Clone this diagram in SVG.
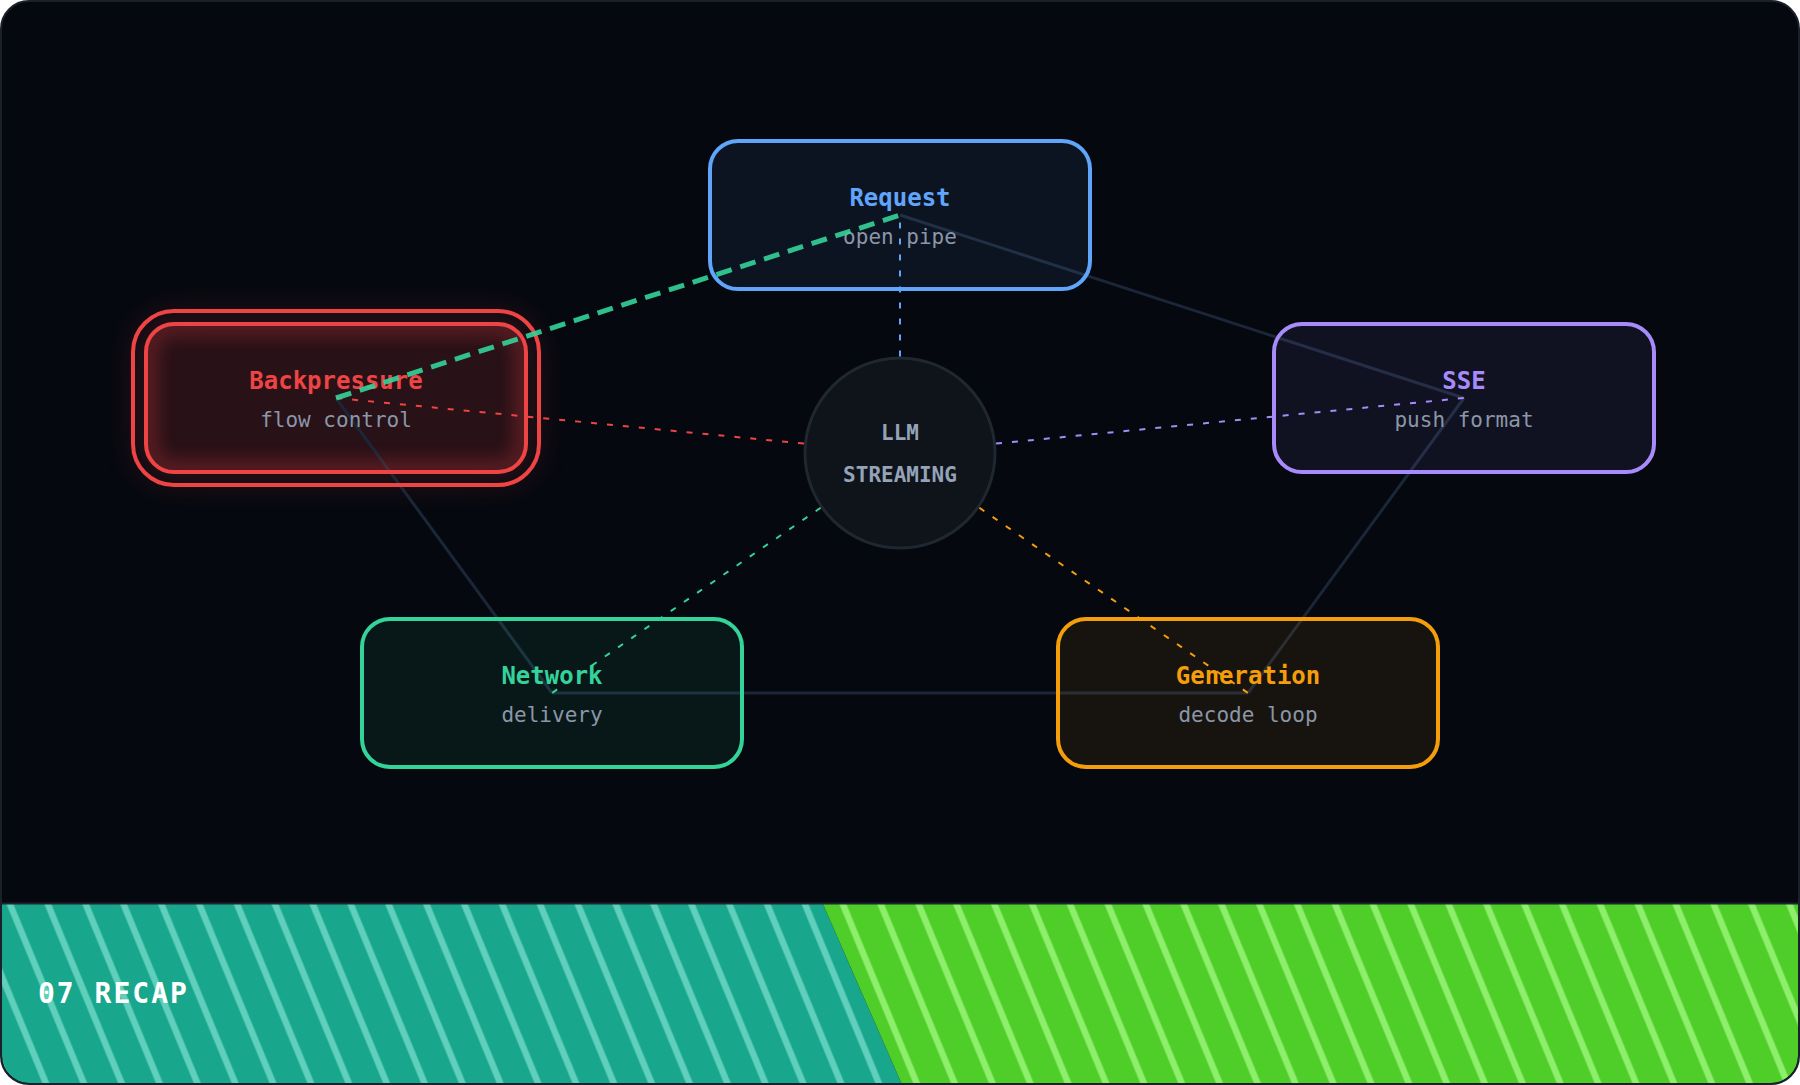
<svg xmlns="http://www.w3.org/2000/svg" width="1800" height="1085" viewBox="0 0 1800 1085">
  <style>
    .title { font-family: "DejaVu Sans Mono", "Liberation Mono", monospace; font-weight: bold; font-size: 24px; text-anchor: middle; }
    .sub { font-family: "DejaVu Sans Mono", "Liberation Mono", monospace; font-size: 21px; text-anchor: middle; fill: #8b96a8; }
    .center { font-family: "DejaVu Sans Mono", "Liberation Mono", monospace; font-weight: bold; font-size: 21px; text-anchor: middle; fill: #94a3b8; }
    .box { stroke-width: 4; fill-opacity: 0.08; }
    .edge { fill: none; stroke: #1b2638; stroke-width: 3; }
    .spoke { fill: none; stroke-width: 2; stroke-dasharray: 6 10; }
  </style>
  <defs>
    <clipPath id="frameClip">
      <rect x="2" y="2" width="1796" height="1081" rx="27"/>
    </clipPath>
    <clipPath id="innerClip">
      <rect x="146" y="324" width="380" height="148" rx="28"/>
    </clipPath>
    <pattern id="stripeTeal" patternUnits="userSpaceOnUse" width="37.86" height="10" patternTransform="skewX(22.4)">
      <rect x="0" y="0" width="37.86" height="10" fill="#18a68c"/>
      <rect x="12.4" y="0" width="7" height="10" fill="#60d0bc"/>
    </pattern>
    <pattern id="stripeGreen" patternUnits="userSpaceOnUse" width="37.86" height="10" patternTransform="skewX(22.4)">
      <rect x="0" y="0" width="37.86" height="10" fill="#4fcd28"/>
      <rect x="12.4" y="0" width="7" height="10" fill="#8def6b"/>
    </pattern>
    <filter id="blurOuter" x="-30%" y="-50%" width="160%" height="200%">
      <feGaussianBlur stdDeviation="16"/>
    </filter>
    <filter id="blurInner" x="-20%" y="-40%" width="140%" height="180%">
      <feGaussianBlur stdDeviation="8"/>
    </filter>
  </defs>

  <!-- frame -->
  <rect x="1" y="1" width="1798" height="1083" rx="28" fill="#05080f"/>

  <!-- bottom band -->
  <g clip-path="url(#frameClip)">
    <polygon points="0,904 822.9,904 902.2,1085 0,1085" fill="url(#stripeTeal)"/>
    <polygon points="822.9,904 1800,904 1800,1085 902.2,1085" fill="url(#stripeGreen)"/>
    <line x1="0" y1="903.5" x2="1800" y2="903.5" stroke="#1f252e" stroke-width="2"/>
  </g>
  <text x="38" y="1003" font-family="'DejaVu Sans Mono', 'Liberation Mono', monospace" font-weight="bold" font-size="28" letter-spacing="2" fill="#ffffff">07 RECAP</text>

  <!-- backpressure glow (behind everything) -->
  <rect x="133" y="311" width="406" height="174" rx="41" fill="#ef4444" opacity="0.15" filter="url(#blurOuter)"/>

  <!-- pentagon edges (under nodes) -->
  <g id="edges">
    <line class="edge" x1="900" y1="215" x2="1464" y2="398"/>
    <line class="edge" x1="1464" y1="398" x2="1248" y2="693"/>
    <line class="edge" x1="1248" y1="693" x2="552" y2="693"/>
    <line class="edge" x1="552" y1="693" x2="336" y2="398"/>
  </g>

  <!-- nodes -->
  <g id="node-request">
    <rect class="box" x="710" y="141" width="380" height="148" rx="28" fill="#60a5fa" stroke="#60a5fa"/>
    <text class="title" x="900" y="206" fill="#60a5fa">Request</text>
    <text class="sub" x="900" y="244">open pipe</text>
  </g>

  <g id="node-backpressure">
    <g clip-path="url(#innerClip)">
      <rect x="146" y="324" width="380" height="148" rx="28" fill="none" stroke="#ef4444" stroke-width="26" opacity="0.25" filter="url(#blurInner)"/>
    </g>
    <rect x="133" y="311" width="406" height="174" rx="41" fill="none" stroke="#ef4444" stroke-width="4"/>
    <rect x="146" y="324" width="380" height="148" rx="28" fill="none" stroke="#ef4444" stroke-width="4"/>
    <text class="title" x="336" y="389" fill="#ef4444">Backpressure</text>
    <text class="sub" x="336" y="427">flow control</text>
  </g>

  <g id="node-sse">
    <rect class="box" x="1274" y="324" width="380" height="148" rx="28" fill="#a78bfa" stroke="#a78bfa"/>
    <text class="title" x="1464" y="389" fill="#a78bfa">SSE</text>
    <text class="sub" x="1464" y="427">push format</text>
  </g>

  <g id="node-network">
    <rect class="box" x="362" y="619" width="380" height="148" rx="28" fill="#34d399" stroke="#34d399"/>
    <text class="title" x="552" y="684" fill="#34d399">Network</text>
    <text class="sub" x="552" y="722">delivery</text>
  </g>

  <g id="node-generation">
    <rect class="box" x="1058" y="619" width="380" height="148" rx="28" fill="#f59e0b" stroke="#f59e0b"/>
    <text class="title" x="1248" y="684" fill="#f59e0b">Generation</text>
    <text class="sub" x="1248" y="722">decode loop</text>
  </g>

  <g id="node-center">
    <circle cx="900" cy="453" r="95" fill="#0f131a" stroke="#1f2731" stroke-width="3"/>
    <text class="center" x="900" y="440">LLM</text>
    <text class="center" x="900" y="482">STREAMING</text>
  </g>

  <!-- connectors on top -->
  <g id="connectors">
    <line class="spoke" x1="900" y1="356.5" x2="900" y2="215" stroke="#60a5fa"/>
    <line class="spoke" x1="804" y1="443.6" x2="336" y2="398" stroke="#ef4444"/>
    <line class="spoke" x1="996" y1="443.6" x2="1464" y2="398" stroke="#a78bfa"/>
    <line class="spoke" x1="820.6" y1="507.8" x2="552" y2="693" stroke="#34d399"/>
    <line class="spoke" x1="979.4" y1="507.8" x2="1248" y2="693" stroke="#f59e0b"/>
    <line x1="336" y1="398" x2="900" y2="215" stroke="#34d399" stroke-width="5" stroke-dasharray="16 9" opacity="0.9"/>
  </g>

  <!-- frame border -->
  <rect x="1" y="1" width="1798" height="1083" rx="28" fill="none" stroke="#1b212b" stroke-width="2"/>
</svg>
